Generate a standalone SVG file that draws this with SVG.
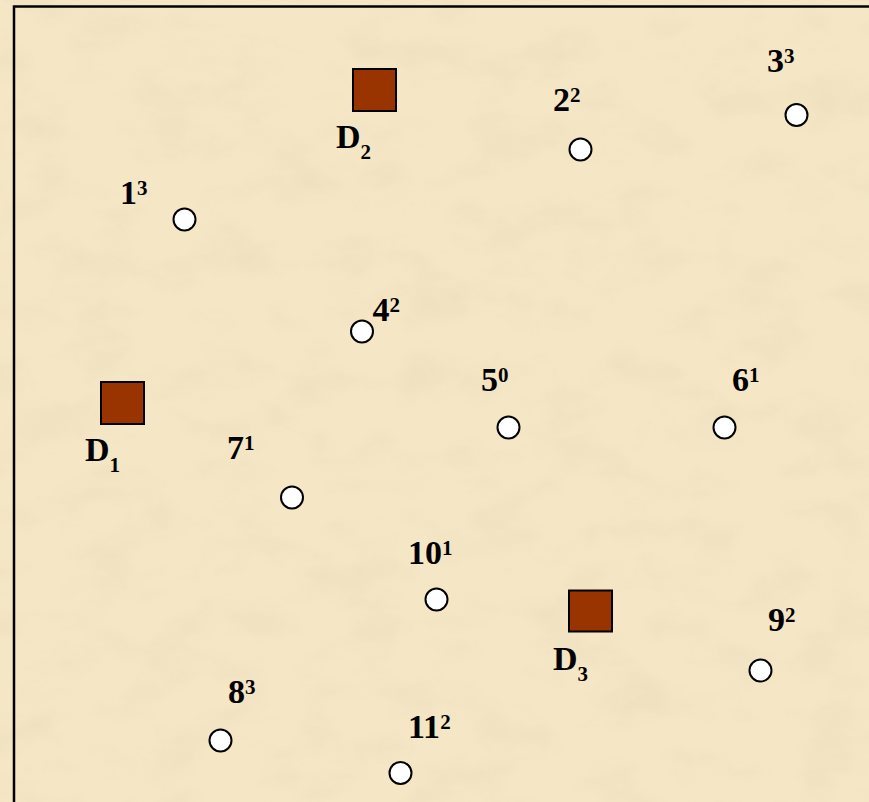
<svg xmlns="http://www.w3.org/2000/svg" width="869" height="802" viewBox="0 0 869 802">
<style>
.lbl{font-family:"Liberation Serif","Times New Roman",serif;font-weight:bold;font-size:34px;fill:#000}
.sm{font-size:21px}
.depot{fill:#993300;stroke:#000;stroke-width:2}
.cust{fill:#fff;stroke:#000;stroke-width:2}
</style>
<defs>
<filter id="tex" x="0" y="0" width="100%" height="100%">
<feTurbulence type="fractalNoise" baseFrequency="0.015 0.025" numOctaves="4" seed="7" result="n"/>
<feColorMatrix in="n" type="matrix" values="0 0 0 0 0.80  0 0 0 0 0.68  0 0 0 0 0.48  0 0 0 1.8 -0.8"/>
</filter>
</defs>
<g id="background">
<rect x="0" y="0" width="869" height="802" fill="#F5E7C6"/>
<rect x="0" y="0" width="869" height="802" filter="url(#tex)" opacity="0.5"/>
<path d="M14,802 V6.5 H869" fill="none" stroke="#000" stroke-width="2.5"/>
</g>
<g id="connectors"></g>
<g id="D1"><rect class="depot" x="101" y="382" width="43" height="42"/><text class="lbl" x="85" y="460.5">D<tspan class="sm" dy="11">1</tspan></text></g>
<g id="D2"><rect class="depot" x="353" y="69" width="43" height="42"/><text class="lbl" x="336" y="148">D<tspan class="sm" dy="11">2</tspan></text></g>
<g id="D3"><rect class="depot" x="569" y="590.5" width="43" height="41"/><text class="lbl" x="553" y="670">D<tspan class="sm" dy="11">3</tspan></text></g>
<g id="n1"><circle class="cust" cx="184.5" cy="219.5" r="11"/><text class="lbl" x="120" y="204">1<tspan class="sm" dy="-9.5">3</tspan></text></g>
<g id="n2"><circle class="cust" cx="580.5" cy="149.5" r="11"/><text class="lbl" x="553" y="111">2<tspan class="sm" dy="-9.5">2</tspan></text></g>
<g id="n3"><circle class="cust" cx="796.5" cy="115" r="11"/><text class="lbl" x="767" y="72">3<tspan class="sm" dy="-9.5">3</tspan></text></g>
<g id="n4"><circle class="cust" cx="362" cy="331.5" r="11"/><text class="lbl" x="372.5" y="321">4<tspan class="sm" dy="-9.5">2</tspan></text></g>
<g id="n5"><circle class="cust" cx="508.5" cy="427.5" r="11"/><text class="lbl" x="481" y="391">5<tspan class="sm" dy="-9.5">0</tspan></text></g>
<g id="n6"><circle class="cust" cx="724.5" cy="427.5" r="11"/><text class="lbl" x="732" y="391">6<tspan class="sm" dy="-9.5">1</tspan></text></g>
<g id="n7"><circle class="cust" cx="292" cy="497.5" r="11"/><text class="lbl" x="227" y="459">7<tspan class="sm" dy="-9.5">1</tspan></text></g>
<g id="n8"><circle class="cust" cx="220.5" cy="740.5" r="11"/><text class="lbl" x="228" y="703">8<tspan class="sm" dy="-9.5">3</tspan></text></g>
<g id="n9"><circle class="cust" cx="760.5" cy="670.5" r="11"/><text class="lbl" x="768" y="631">9<tspan class="sm" dy="-9.5">2</tspan></text></g>
<g id="n10"><circle class="cust" cx="436.5" cy="599.5" r="11"/><text class="lbl" x="408" y="564">10<tspan class="sm" dy="-9.5">1</tspan></text></g>
<g id="n11"><circle class="cust" cx="400.5" cy="773" r="11"/><text class="lbl" x="408" y="738">11<tspan class="sm" dy="-9.5">2</tspan></text></g>
</svg>
